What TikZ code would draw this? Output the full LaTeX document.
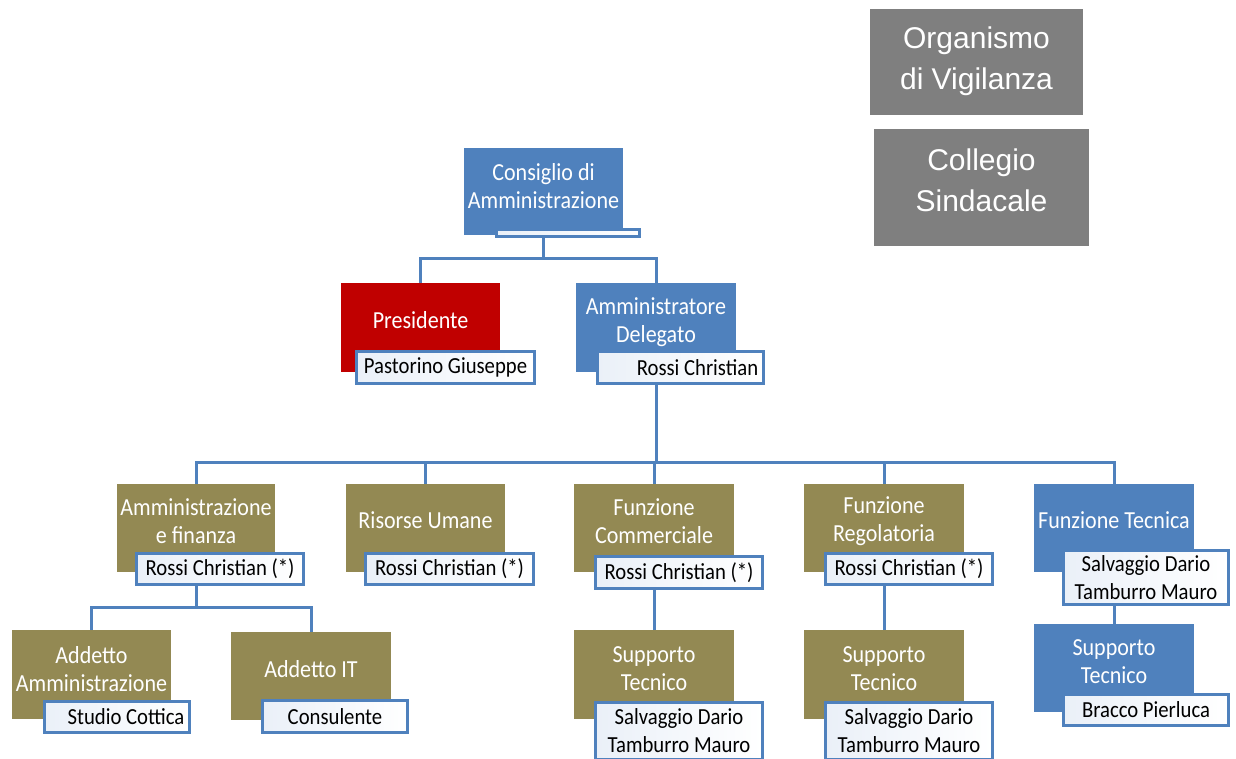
\documentclass[tikz,border=0pt]{standalone}
\usepackage{fontspec}
\setmainfont{Carlito}[FakeStretch=0.9]
\newfontfamily\arialf{Liberation Sans}
\definecolor{bblue}{HTML}{4F81BD}
\definecolor{bred}{HTML}{C00000}
\definecolor{bolive}{HTML}{938953}
\definecolor{bgray}{HTML}{7F7F7F}
\definecolor{nameL}{HTML}{EAF0F8}
\begin{document}
\begin{tikzpicture}[x=1pt,y=-1pt,
  box/.style={draw=none,inner sep=0pt,outer sep=0pt},
  bluebox/.style={box,fill=bblue},
  redbox/.style={box,fill=bred},
  olivebox/.style={box,fill=bolive},
  graybox/.style={box,fill=bgray},
  graytext/.style={text=white,align=center,inner sep=0pt,font=\arialf\fontsize{30}{41}\selectfont},
  maintext/.style={text=white,align=center,inner sep=0pt,font=\fontsize{24.5}{28}\selectfont},
  namebox/.style={draw=bblue,line width=3pt,left color=nameL,right color=white,inner sep=0pt,outer sep=0pt,align=center,font=\fontsize{23}{28}\selectfont,text=black},
  conn/.style={draw=bblue,line width=3pt}]
\clip (0,0) rectangle (1236,758);
\fill[white] (0,0) rectangle (1236,758);

% side boxes
\node[graybox,minimum width=213pt,minimum height=106pt] (ov) at (976.5,62) {};
\node[graytext] (ovt) at (976.5,61) {Organismo\\di Vigilanza};
\node[graybox,minimum width=215pt,minimum height=117pt] (cs) at (981.5,187.5) {};
\node[graytext] (cst) at (981.5,180) {Collegio\\Sindacale};

% main boxes (for connectors)
\node[bluebox,minimum width=159pt,minimum height=87pt] (cda) at (543.5,191.5) {};
\node[redbox,minimum width=159pt,minimum height=89pt] (pres) at (420.5,327.5) {};
\node[bluebox,minimum width=160pt,minimum height=89pt] (ad) at (656,327.5) {};

\node[olivebox,minimum width=158pt,minimum height=88pt] (af) at (196,528) {};
\node[olivebox,minimum width=159pt,minimum height=88pt] (ru) at (425.5,528) {};
\node[olivebox,minimum width=160pt,minimum height=88pt] (fc) at (654,528) {};
\node[olivebox,minimum width=160pt,minimum height=88pt] (fr) at (884,528) {};
\node[bluebox,minimum width=160pt,minimum height=88pt] (ft) at (1114,528) {};

\node[olivebox,minimum width=159pt,minimum height=89pt] (aa) at (91.5,674.5) {};
\node[olivebox,minimum width=160pt,minimum height=88pt] (ait) at (311,676) {};
\node[olivebox,minimum width=160pt,minimum height=89pt] (stc) at (654,674.5) {};
\node[olivebox,minimum width=160pt,minimum height=89pt] (str) at (884,674.5) {};
\node[bluebox,minimum width=160pt,minimum height=88pt] (stt) at (1114,668) {};

% connectors
\coordinate (bus1) at (544,258);
\coordinate (bus2) at (654,462);
\coordinate (bus3) at (196,607);
\draw[conn] (cda.south) -- (cda.south |- bus1);
\draw[conn] (pres.north) |- (bus1) -| (ad.north);
\draw[conn] (ad.south) -- (ad.south |- bus2);
\draw[conn] (af.north) |- (bus2) -| (ft.north);
\draw[conn] (ru.north) -- (ru.north |- bus2);
\draw[conn] (fc.north) -- (fc.north |- bus2);
\draw[conn] (fr.north) -- (fr.north |- bus2);
\draw[conn] (af.south) -- (af.south |- bus3);
\draw[conn] (aa.north) |- (bus3) -| (ait.north);
\draw[conn] (fc.south) -- (stc.north);
\draw[conn] (fr.south) -- (str.north);
\draw[conn] (ft.south) -- (stt.north);

% redraw boxes on top of connectors
\foreach \n/\c in {cda/bblue,pres/bred,ad/bblue,af/bolive,ru/bolive,fc/bolive,fr/bolive,ft/bblue,aa/bolive,ait/bolive,stc/bolive,str/bolive,stt/bblue}
  \fill[\c] (\n.north west) rectangle (\n.south east);

% main texts
\node[maintext] (cdat) at (543.5,186) {Consiglio di\\Amministrazione};
\node[maintext] (prest) at (420.5,320) {Presidente};
\node[maintext] (adt) at (656,322) {Amministratore\\Delegato};
\node[maintext] (aft) at (196,521) {Amministrazione\\e finanza};
\node[maintext] (rut) at (425.5,520) {Risorse Umane};
\node[maintext] (fct) at (654,521) {Funzione\\Commerciale};
\node[maintext] (frt) at (884,521) {Funzione\\Regolatoria};
\node[maintext] (ftt) at (1114,520) {Funzione Tecnica};
\node[maintext] (aat) at (91.5,669) {Addetto\\Amministrazione};
\node[maintext] (aitt) at (311,669) {Addetto IT};
\node[maintext] (stct) at (654,669) {Supporto\\Tecnico};
\node[maintext] (strt) at (884,669) {Supporto\\Tecnico};
\node[maintext] (sttt) at (1114,662) {Supporto\\Tecnico};

% name boxes
\node[namebox,minimum width=143pt,minimum height=7pt] (cdan) at (568,232.5) {};
\node[namebox,minimum width=178pt,minimum height=32pt] (presn) at (445.5,367.5) {Pastorino Giuseppe};
\node[namebox,minimum width=166pt,minimum height=32pt] (adn) at (680.5,367.5) {\hspace*{34pt}Rossi Christian};
\node[namebox,minimum width=167pt,minimum height=31pt] (afn) at (220,569) {Rossi Christian (*)};
\node[namebox,minimum width=168pt,minimum height=31pt] (run) at (449.5,569) {Rossi Christian (*)};
\node[namebox,minimum width=167pt,minimum height=32pt] (fcn) at (679,572.5) {Rossi Christian (*)};
\node[namebox,minimum width=167pt,minimum height=31pt] (frn) at (909,569) {Rossi Christian (*)};
\node[namebox,minimum width=165pt,minimum height=54pt] (ftn) at (1146,577.5) {Salvaggio Dario\\Tamburro Mauro};
\node[namebox,minimum width=145pt,minimum height=31pt] (aan) at (117,717) {\hspace*{18pt}Studio Cottica};
\node[namebox,minimum width=145pt,minimum height=32pt] (aitn) at (335,716.5) {Consulente};
\node[namebox,minimum width=167pt,minimum height=57pt] (stcn) at (679,731) {Salvaggio Dario\\Tamburro Mauro};
\node[namebox,minimum width=167pt,minimum height=57pt] (strn) at (909,731) {Salvaggio Dario\\Tamburro Mauro};
\node[namebox,minimum width=165pt,minimum height=31pt] (sttn) at (1146,710) {Bracco Pierluca};
\end{tikzpicture}
\end{document}
